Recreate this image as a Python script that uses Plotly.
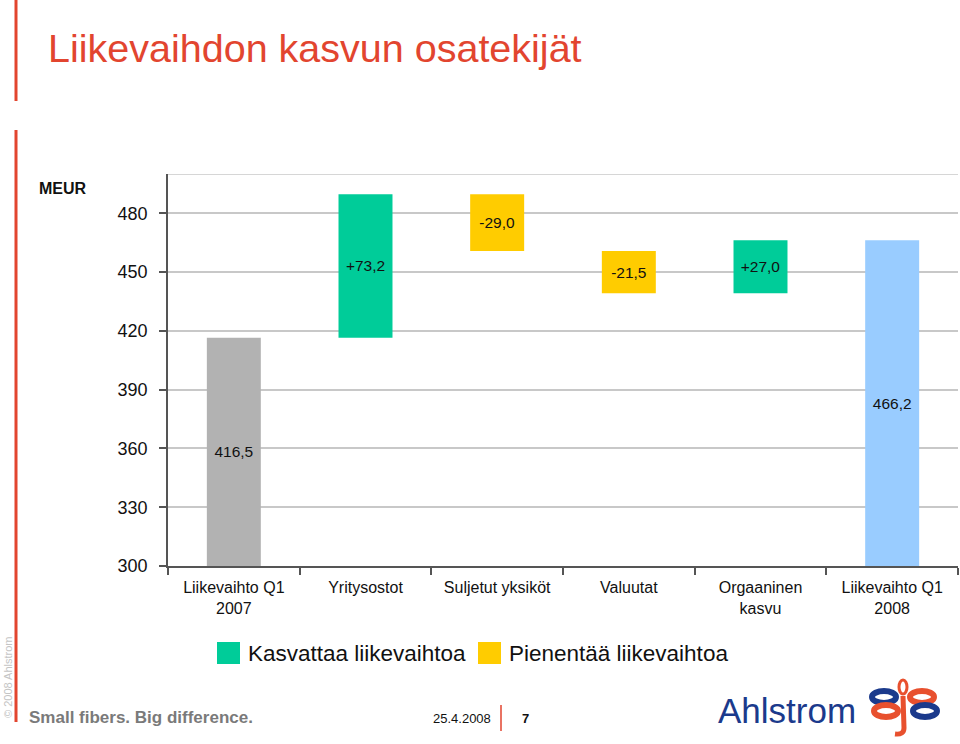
import plotly.graph_objects as go

# ---- data ----
categories = ["Liikevaihto Q1<br>2007", "Yritysostot", "Suljetut yksiköt",
              "Valuutat", "Orgaaninen<br>kasvu", "Liikevaihto Q1<br>2008"]
start_value = 416.5
changes = [73.2, -29.0, -21.5, 27.0]
end_value = 466.2
bar_labels = ["416,5", "+73,2", "-29,0", "-21,5", "+27,0", "466,2"]
y_ticks = [300, 330, 360, 390, 420, 450, 480]
legend_labels = ["Kasvattaa liikevaihtoa", "Pienentää liikevaihtoa"]

# ---- colours ----
GRAY, GREEN, YELLOW, BLUE = "#B2B2B2", "#00CC99", "#FFCC00", "#99CCFF"
RED = "#E2452F"
FONT = "Liberation Sans, Arial, sans-serif"

Y0 = 300
bases, heights, colors = [], [], []
bases.append(Y0)
heights.append(start_value - Y0)
colors.append(GRAY)
level = start_value
for c in changes:
    lo = min(level, level + c)
    bases.append(lo)
    heights.append(abs(c))
    colors.append(GREEN if c > 0 else YELLOW)
    level += c
bases.append(Y0)
heights.append(end_value - Y0)
colors.append(BLUE)

W, H = 960, 744
L, R, T, B = 168, 2, 174, 178
PW, PH = W - L - R, H - T - B


def px(x):
    return (x - L) / PW


def py(y):
    return (H - B - y) / PH


fig = go.Figure()
fig.add_trace(go.Bar(
    x=categories, y=heights, base=bases, width=0.41,
    marker=dict(color=colors, line=dict(width=0)),
    text=bar_labels, textposition="inside", insidetextanchor="middle",
    textangle=0, constraintext="none",
    textfont=dict(family=FONT, size=15.5, color="#111111"),
    hoverinfo="skip", showlegend=False,
))

shapes = []
annotations = []

# top frame line of plot area
shapes.append(dict(type="line", xref="paper", yref="y", x0=0, x1=1, y0=500, y1=500,
                   line=dict(color="#C8C8C8", width=1.5), layer="below"))

# red vertical slide lines
shapes.append(dict(type="line", xref="paper", yref="paper", x0=px(16), x1=px(16),
                   y0=py(0), y1=py(101), line=dict(color=RED, width=3)))
shapes.append(dict(type="line", xref="paper", yref="paper", x0=px(16), x1=px(16),
                   y0=py(130), y1=py(722), line=dict(color=RED, width=3)))
shapes.append(dict(type="line", xref="paper", yref="paper", x0=px(501), x1=px(501),
                   y0=py(705), y1=py(731), line=dict(color=RED, width=1.5)))

# title
annotations.append(dict(text="Liikevaihdon kasvun osatekijät", xref="paper", yref="paper",
                        x=px(46), y=py(48), xanchor="left", yanchor="middle", showarrow=False,
                        font=dict(family=FONT, size=39.5, color=RED)))
# unit
annotations.append(dict(text="<b>MEUR</b>", xref="paper", yref="paper",
                        x=px(37), y=py(188), xanchor="left", yanchor="middle", showarrow=False,
                        font=dict(family=FONT, size=16, color="#111111")))

# legend
leg_items = [(217, GREEN, legend_labels[0]), (478, YELLOW, legend_labels[1])]
for x0, col, lab in leg_items:
    shapes.append(dict(type="rect", xref="paper", yref="paper", x0=px(x0), x1=px(x0 + 23),
                       y0=py(664), y1=py(642), fillcolor=col, line=dict(width=0)))
    annotations.append(dict(text=lab, xref="paper", yref="paper", x=px(x0 + 29), y=py(653),
                            xanchor="left", yanchor="middle", showarrow=False,
                            font=dict(family=FONT, size=22.5, color="#111111")))

# footer
annotations.append(dict(text="<b>Small fibers. Big difference.</b>", xref="paper", yref="paper",
                        x=px(27), y=py(717), xanchor="left", yanchor="middle", showarrow=False,
                        font=dict(family=FONT, size=17, color="#7A7A7A")))
annotations.append(dict(text="25.4.2008", xref="paper", yref="paper",
                        x=px(493), y=py(718), xanchor="right", yanchor="middle", showarrow=False,
                        font=dict(family=FONT, size=13, color="#111111")))
annotations.append(dict(text="<b>7</b>", xref="paper", yref="paper",
                        x=px(520), y=py(718), xanchor="left", yanchor="middle", showarrow=False,
                        font=dict(family=FONT, size=13, color="#111111")))
annotations.append(dict(text="© 2008 Ahlstrom", xref="paper", yref="paper",
                        x=px(8), y=py(678), xanchor="center", yanchor="middle", showarrow=False,
                        textangle=-90, font=dict(family=FONT, size=11, color="#C4C4C4")))

# logo text
LOGO_BLUE = "#1B3A8C"
LOGO_RED = "#E8502E"
annotations.append(dict(text="Ahlstrom", xref="paper", yref="paper",
                        x=px(716), y=py(710), xanchor="left", yanchor="middle", showarrow=False,
                        font=dict(family=FONT, size=35, color=LOGO_BLUE)))


def loop(cx, cy, rx, ry, col, w=4):
    shapes.append(dict(type="circle", xref="paper", yref="paper",
                       x0=px(cx - rx), x1=px(cx + rx), y0=py(cy + ry), y1=py(cy - ry),
                       line=dict(color=col, width=w)))


# logo symbol (approximation)
shapes.append(dict(type="path", xref="paper", yref="paper",
                   path=f"M {px(903)},{py(696)} L {px(904)},{py(728)} Q {px(904)},{py(735)} {px(895)},{py(734)}",
                   line=dict(color=LOGO_RED, width=5)))
loop(903, 687, 4, 7, LOGO_RED, 3)
loop(884, 697, 12, 6, LOGO_BLUE, 6)
loop(922, 697, 12, 6, LOGO_RED, 6)
loop(886, 711, 12, 6, LOGO_RED, 6)
loop(925, 711, 12, 6, LOGO_BLUE, 6)

fig.update_layout(
    width=W, height=H,
    margin=dict(l=L, r=R, t=T, b=B, pad=0),
    paper_bgcolor="white", plot_bgcolor="white",
    showlegend=False,
    font=dict(family=FONT, color="#111111"),
    shapes=shapes, annotations=annotations,
    xaxis=dict(
        type="category", tickson="boundaries", ticks="outside", ticklen=7,
        tickcolor="#555555", tickwidth=1.5,
        showline=True, linecolor="#555555", linewidth=1.5,
        showgrid=False, tickfont=dict(family=FONT, size=16, color="#111111"),
        ticklabelstandoff=6,
        fixedrange=True,
    ),
    yaxis=dict(
        range=[300, 500], tickvals=y_ticks, ticktext=[str(v) for v in y_ticks],
        ticks="outside", ticklen=7, tickcolor="#555555", tickwidth=1.5,
        showline=True, linecolor="#555555", linewidth=1.5,
        showgrid=True, gridcolor="#C8C8C8", gridwidth=1.5,
        zeroline=False, ticklabelstandoff=8,
        tickfont=dict(family=FONT, size=18, color="#111111"),
        fixedrange=True,
    ),
)

fig.write_html("out.html")
